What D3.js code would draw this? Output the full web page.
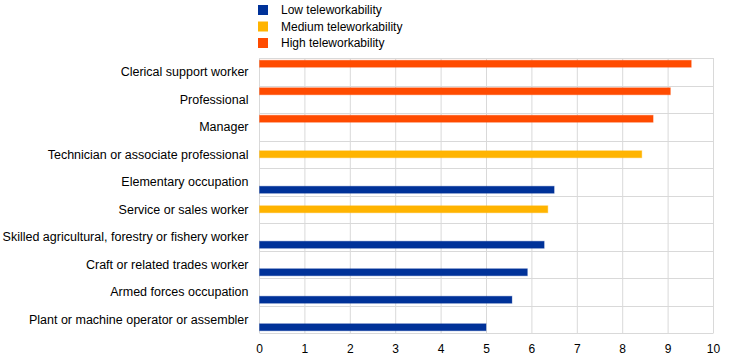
<!DOCTYPE html>
<html>
<head>
<meta charset="utf-8">
<script src="https://cdn.jsdelivr.net/npm/d3@7"></script>
<style>
  body { margin: 0; background: #fff; }
  text { font-family: "Liberation Sans", Arial, sans-serif; font-size: 12px; fill: #000; }
  text.cat { font-size: 12.5px; }
</style>
</head>
<body>
<div class="chart"></div>
<script>
// data
let categories = [
    "Clerical support worker",
    "Professional",
    "Manager",
    "Technician or associate professional",
    "Elementary occupation",
    "Service or sales worker",
    "Skilled agricultural, forestry or fishery worker",
    "Craft or related trades worker",
    "Armed forces occupation",
    "Plant or machine operator or assembler"
]
let seriesNames = ["High teleworkability", "Medium teleworkability", "Low teleworkability"]
let legendOrder = ["Low teleworkability", "Medium teleworkability", "High teleworkability"]
let groupOf = ["High", "High", "High", "Medium", "Low", "Medium", "Low", "Low", "Low", "Low"]
let values = [9.51, 9.05, 8.67, 8.42, 6.49, 6.35, 6.27, 5.9, 5.56, 4.99]
let xTicks = [0, 1, 2, 3, 4, 5, 6, 7, 8, 9, 10]

let colors = {
    "Low teleworkability": "#003299",
    "Medium teleworkability": "#FFB400",
    "High teleworkability": "#FF4B00"
}

let svgWidth = 744
let svgHeight = 362

let margin = { left: 259.5, right: 30.5, top: 58, bottom: 29 }
let width = svgWidth - margin.left - margin.right
let height = svgHeight - margin.top - margin.bottom

let svgRoot = d3.select('.chart')
    .append('svg')
    .attr('width', svgWidth)
    .attr('height', svgHeight)

let svg = svgRoot.append('g')
    .attr("transform", "translate(" + margin.left + "," + margin.top + ")")

let xScale = d3.scaleLinear().domain([0, 10]).range([0, width])
let yScale = d3.scaleBand().domain(categories).range([0, height]).padding(0)
let inner = d3.scaleBand().domain(seriesNames).range([0, yScale.bandwidth()])
    .paddingInner(0).paddingOuter(0.22)

// grid
svg.selectAll('.vgrid')
    .data(xTicks)
    .join('line')
    .attr('x1', d => xScale(d)).attr('x2', d => xScale(d))
    .attr('y1', 0).attr('y2', height)
    .attr('stroke', '#d9d9d9')
    .attr('stroke-width', 1)

let bounds = categories.map(c => yScale(c)).concat([height])
svg.selectAll('.hgrid')
    .data(bounds)
    .join('line')
    .attr('x1', 0).attr('x2', width)
    .attr('y1', d => Math.round(d) + 0.5).attr('y2', d => Math.round(d) + 0.5)
    .attr('stroke', '#d9d9d9')
    .attr('stroke-width', 1)

// bars
let rows = categories.map((c, i) => ({
    cat: c,
    value: values[i],
    series: groupOf[i] + " teleworkability"
}))

svg.selectAll('.bar')
    .data(rows)
    .join('rect')
    .attr('x', xScale(0))
    .attr('y', d => yScale(d.cat) + inner(d.series) + 0.5)
    .attr('width', d => xScale(d.value) - xScale(0))
    .attr('height', inner.bandwidth() - 1)
    .attr('fill', d => colors[d.series])
    .attr('stroke', d => colors[d.series])
    .attr('stroke-opacity', 0.35)
    .attr('stroke-width', 1)

// category labels
svg.selectAll('.cat')
    .data(categories)
    .join('text')
    .attr('class', 'cat')
    .attr('x', -11)
    .attr('y', d => yScale(d) + yScale.bandwidth() / 2)
    .attr('dy', '0.35em')
    .attr('text-anchor', 'end')
    .text(d => d)

// x tick labels
svg.selectAll('.xt')
    .data(xTicks)
    .join('text')
    .attr('x', d => xScale(d))
    .attr('y', height + 16)
    .attr('dy', '0.35em')
    .attr('text-anchor', 'middle')
    .text(d => d)

// legend
let legend = svgRoot.append('g').attr('transform', 'translate(258,5)')
legend.selectAll('rect')
    .data(legendOrder)
    .join('rect')
    .attr('x', 0)
    .attr('y', (d, i) => i * 16.5)
    .attr('width', 10)
    .attr('height', 10)
    .attr('fill', d => colors[d])

legend.selectAll('text')
    .data(legendOrder)
    .join('text')
    .attr('x', 23)
    .attr('y', (d, i) => i * 16.5 + 5)
    .attr('dy', '0.35em')
    .text(d => d)
</script>
</body>
</html>
